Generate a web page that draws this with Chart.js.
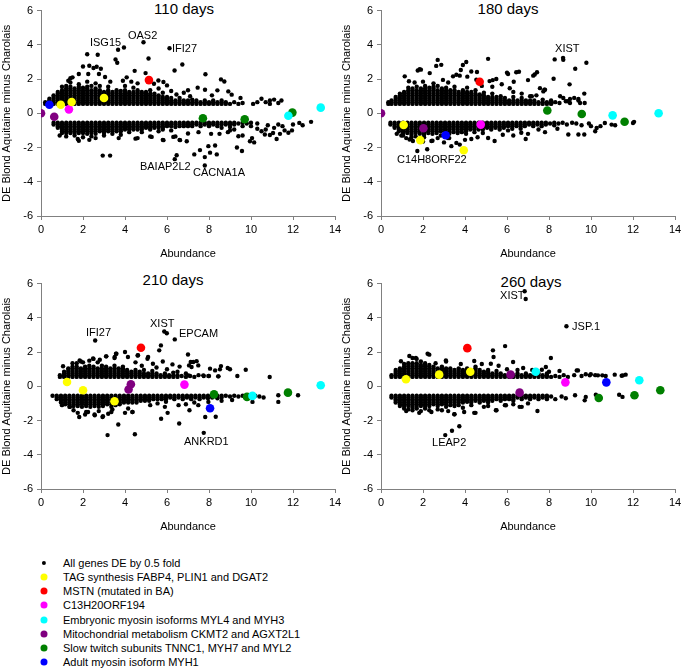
<!DOCTYPE html>
<html><head><meta charset="utf-8">
<script src="https://cdn.jsdelivr.net/npm/chart.js@4.4.1/dist/chart.umd.min.js"></script>
<style>
body{margin:0;width:683px;height:669px;overflow:hidden;background:#fff;position:relative;font-family:"Liberation Sans",Arial,sans-serif;color:#000}
canvas{position:absolute}
.t{position:absolute;font-size:15px;transform:translate(-50%,-50%);white-space:nowrap}
.lg{position:absolute;left:63px;font-size:11px;transform:translateY(-50%);white-space:nowrap;line-height:12px}
.mk{position:absolute;border-radius:50%;transform:translate(-50%,-50%)}
</style></head><body>
<div class="t" style="left:184px;top:8px">110 days</div>
<div class="t" style="left:508px;top:8px">180 days</div>
<div class="t" style="left:173px;top:279px">210 days</div>
<div class="t" style="left:531px;top:281px">260 days</div>
<canvas id="c1" width="350" height="262" style="left:0;top:0"></canvas>
<canvas id="c2" width="350" height="262" style="left:340px;top:0"></canvas>
<canvas id="c3" width="350" height="262" style="left:0;top:273px"></canvas>
<canvas id="c4" width="350" height="262" style="left:340px;top:273px"></canvas>
<div id="legend"></div>
<script>
// ---------- axis ticks ----------
const xTickVals = [0,2,4,6,8,10,12,14];
const yTickVals = [-6,-4,-2,0,2,4,6];

// ---------- series names / colours ----------
const seriesNames = ['All genes DE by 0.5 fold','TAG synthesis FABP4, PLIN1 and DGAT2','MSTN (mutated in BA)','C13H20ORF194','Embryonic myosin isoforms MYL4 and MYH3','Mitochondrial metabolism CKMT2 and AGXT2L1','Slow twitch subunits TNNC1, MYH7 and MYL2','Adult myosin isoform MYH1'];
const seriesColors = ['#000000','#ffff00','#ff0000','#ff00ff','#00ffff','#800080','#008000','#0000ff'];

// ---------- 110 days ----------
// dense bands: [abundance, DE, DE, ...]
const u110 = [[0.2,.55,.65],[0.4,.55,.65,.75,.85],[0.6,.55,.65,.75,.85,.95,1.05],[0.8,.55,.65,.75,.85,.95,1.05,1.15,1.25],[1.0,.55,.65,.75,.85,.95,1.05,1.15,1.25,1.35,1.55],[1.2,.55,.65,.75,.85,.95,1.05,1.15,1.25,1.35,1.45,1.6],[1.4,.55,.65,.75,.85,.95,1.05,1.15,1.25,1.35,1.45,1.55,1.8,2.05],[1.6,.55,.65,.75,.85,.95,1.05,1.15,1.25,1.35,1.45],[1.8,.55,.65,.75,.85,.95,1.05,1.15,1.25,1.35,1.45,1.55,1.7],[2.0,.55,.65,.75,.85,.95,1.05,1.15,1.25,1.35,1.5],[2.2,.55,.65,.75,.85,.95,1.05,1.15,1.25,1.35,1.45,1.55,1.85],[2.4,.55,.65,.75,.85,.95,1.05,1.15,1.25,1.35,1.6],[2.6,.55,.65,.75,.85,.95,1.05,1.15,1.25,1.35,1.45,1.75],[2.8,.55,.65,.75,.85,.95,1.05,1.15,1.25,1.35,1.6],[3.0,.55,.65,.75,.85,.95,1.05,1.15,1.25],[3.2,.55,.65,.75,.85,.95,1.05,1.15,1.25,1.35,1.55],[3.4,.55,.65,.75,.85,.95,1.05,1.15,1.25],[3.6,.55,.65,.75,.85,.95,1.05,1.15,1.25,1.35],[3.8,.55,.65,.75,.85,.95,1.05,1.15,1.3],[4.0,.55,.65,.75,.85,.95,1.05,1.15,1.25,1.35,1.6],[4.2,.55,.65,.75,.85,.95,1.05,1.15,1.25],[4.4,.55,.65,.75,.85,.95,1.05,1.15,1.25,1.5],[4.6,.55,.65,.75,.85,.95,1.05,1.15,1.25,1.35],[4.8,.55,.65,.75,.85,.95,1.05,1.15,1.25],[5.0,.55,.65,.75,.85,.95,1.05,1.15,1.25],[5.2,.55,.65,.75,.85,.95,1.05,1.15,1.35],[5.4,.55,.65,.75,.85,.95,1.05,1.15],[5.6,.55,.65,.75,.85,.95,1.05,1.45],[5.8,.55,.65,.75,.85,.95,1.2],[6.0,.55,.65,.75,.85,.95],[6.2,.55,.65,.75,.9],[6.4,.55,.65,.75],[6.6,.55,.65,.75,.9],[6.8,.55,.65,.75],[7.0,.55,.65,.75],[7.2,.55,.65,.8],[7.4,.55,.65,.75],[7.6,.55,.65],[7.8,.55,.65,.75],[8.0,.55,.65],[8.2,.55,.65,.75],[8.4,.55,.65],[8.6,.55,.65,.75],[8.8,.55,.65],[9.0,.55],[9.2,.65],[9.4,.55],[9.6,.6],[10.1,.55],[10.3,.65],[10.5,.85],[10.7,.65],[10.9,.55,.75],[11.1,.8],[11.3,.6],[11.45,.75]];
const l110 = [[0.6,-.55,-.65],[0.8,-.55,-.65,-.75,-.85],[1.0,-.55,-.65,-.75,-.85,-.95,-1.05,-1.15],[1.2,-.55,-.65,-.75,-.85,-.95,-1.05,-1.15,-1.35],[1.4,-.55,-.65,-.75,-.85,-.95,-1.05,-1.15],[1.6,-.55,-.65,-.75,-.85,-.95,-1.05,-1.15,-1.3],[1.8,-.55,-.65,-.75,-.85,-.95,-1.05,-1.15,-1.6],[2.0,-.55,-.65,-.75,-.85,-.95,-1.05,-1.15,-1.4],[2.2,-.55,-.65,-.75,-.85,-.95,-1.05,-1.2],[2.4,-.55,-.65,-.75,-.85,-.95,-1.05,-1.15,-1.35],[2.6,-.55,-.65,-.75,-.85,-.95,-1.05,-1.2,-1.45],[2.8,-.55,-.65,-.75,-.85,-.95,-1.05],[3.0,-.55,-.65,-.75,-.85,-.95,-1.05,-1.15,-1.3],[3.2,-.55,-.65,-.75,-.85,-.95,-1.05],[3.4,-.55,-.65,-.75,-.85,-.95,-1.05,-1.2],[3.6,-.55,-.65,-.75,-.85,-.95,-1.05],[3.8,-.55,-.65,-.75,-.85,-.95,-1.05,-1.25],[4.0,-.55,-.65,-.75,-.85,-.95],[4.2,-.55,-.65,-.75,-.85,-.95,-1.1],[4.4,-.55,-.65,-.75,-.85,-.95],[4.6,-.55,-.65,-.75,-.85,-.95,-1.45],[4.8,-.55,-.65,-.75,-.85,-.95,-1.1],[5.0,-.55,-.65,-.75,-.85],[5.2,-.55,-.65,-.75,-.85,-.95,-1.35],[5.4,-.55,-.65,-.75,-.85],[5.6,-.55,-.65,-.75,-.85,-1.05],[5.8,-.55,-.65,-.75,-.85,-.95,-1.55],[6.0,-.55,-.65,-.75],[6.2,-.55,-.65,-.75,-1.0],[6.4,-.55,-.65,-.8,-1.35],[6.6,-.55,-.65,-.75,-1.55],[6.8,-.55,-.65,-.75],[7.0,-.55,-.65,-.75,-1.18],[7.2,-.55,-.65,-.75],[7.4,-.55,-.65],[7.6,-.55,-.65,-.75],[7.8,-.55,-.65],[8.0,-.55,-.65,-.75],[8.2,-.55,-.65],[8.4,-.55,-.65,-.75],[8.6,-.55,-.65,-.85],[8.8,-.55,-.65],[9.0,-.55,-.65,-.8],[9.2,-.55,-.65],[9.4,-.6],[9.6,-.55,-.75],[9.8,-.6],[10.0,-.55,-.75],[10.3,-.6]];
const s110 = [[2.2,3.45],[2.7,3.42],[3.67,3.71],[3.95,3.84],[4.88,4.15],[6.12,3.8],[5.12,3.2],[3.55,3.15],[3.63,2.95],[2.0,2.73],[2.3,2.78],[2.5,2.65],[2.65,2.72],[2.85,2.6],[4.46,2.48],[6.36,2.5],[6.73,2.85],[7.83,2.28],[8.57,1.98],[8.73,1.86],[2.25,2.3],[2.76,2.3],[3.05,2.12],[4.08,2.1],[4.98,2.35],[5.38,1.73],[5.59,1.92],[5.83,1.83],[6.0,1.63],[1.5,2.1],[1.3,1.9],[1.8,2.3],[3.3,1.85],[3.9,1.9],[4.6,1.75],[4.3,1.85],[6.2,1.3],[6.45,1.1],[6.8,1.2],[7.1,1.0],[7.46,1.5],[7.81,1.38],[8.4,1.34],[8.92,1.28],[9.08,1.09],[8.14,1.05],[9.5,0.9],[7.0,1.35],
 [2.94,-2.47],[3.29,-2.47],[6.37,-2.68],[6.46,-2.45],[7.8,-3.05],[7.3,-2.4],[7.57,-2.15],[7.8,-2.56],[8.05,-2.3],[8.37,-2.4],[7.97,-1.92],[8.29,-1.88],[9.33,-2.0],[9.57,-2.2],[6.94,-1.63],[9.4,-1.34],[9.6,-1.3],[9.95,-1.63],[10.05,-1.45],[10.15,-1.7],[10.66,-1.24],[10.9,-1.27],[11.05,-1.15],[11.22,-1.5],[11.38,-1.2],[11.6,-1.0],[11.78,-1.14],[11.95,-1.0],[12.3,-0.56],[12.46,-0.7],[12.86,-0.5],[9.0,-1.0],[9.2,-0.95],[8.9,-1.1],[10.3,-0.9],[10.5,-1.05],[10.7,-0.95],[11.1,-0.85],[11.5,-0.75],[10.8,-0.7],[11.3,-0.65],[12.0,-0.65],[0.89,-1.3],[1.75,-1.5],[4.5,-1.48],[5.27,-1.38],[5.83,-1.57],[6.3,-1.38],[6.62,-1.57],[3.7,-1.45],[2.3,-1.55],[8.5,-1.2],[7.5,-1.1],[8.1,-1.2]];
const tag110 = [[0.94,0.5],[1.46,0.66],[3.0,0.89]];
const mstn110 = [[5.14,1.94]];
const orf110 = [[1.33,0.23]];
const emb110 = [[11.78,-0.14],[13.32,0.33]];
const mito110 = [[0,0],[0.63,-0.2]];
const slow110 = [[7.71,-0.29],[9.7,-0.35],[11.97,0.04]];
const adult110 = [[0.4,0.5]];
const notes110 = [['ISG15',2.33,4.13],['OAS2',4.14,4.54],['IFI27',6.24,3.78],['BAIAP2L2',4.71,-3.12],['CACNA1A',7.24,-3.5]];

// ---------- 180 days ----------
const u180 = [[0.35,.55,.65],[0.5,.55,.65,.75],[0.7,.55,.65,.75,.85,.95],[0.9,.55,.65,.75,.85,.95,1.05,1.15],[1.1,.55,.65,.75,.85,.95,1.05,1.15,1.25],[1.3,.55,.65,.75,.85,.95,1.05,1.15,1.25,1.35,1.5],[1.5,.55,.65,.75,.85,.95,1.05,1.15,1.25,1.35,1.45],[1.7,.55,.65,.75,.85,.95,1.05,1.15,1.25,1.35,1.55],[1.9,.55,.65,.75,.85,.95,1.05,1.15,1.25,1.35,1.45],[2.1,.55,.65,.75,.85,.95,1.05,1.15,1.25,1.35,1.45,1.6],[2.3,.55,.65,.75,.85,.95,1.05,1.15,1.25,1.35,1.5],[2.5,.55,.65,.75,.85,.95,1.05,1.15,1.25,1.35,1.45,1.55,1.75],[2.7,.55,.65,.75,.85,.95,1.05,1.15,1.25,1.35,1.6],[2.9,.55,.65,.75,.85,.95,1.05,1.15,1.25,1.35,1.45],[3.1,.55,.65,.75,.85,.95,1.05,1.15,1.25,1.35,1.5],[3.3,.55,.65,.75,.85,.95,1.05,1.15,1.25,1.35],[3.5,.55,.65,.75,.85,.95,1.05,1.15,1.25,1.35,1.55],[3.7,.55,.65,.75,.85,.95,1.05,1.15,1.25],[3.9,.55,.65,.75,.85,.95,1.05,1.15,1.25,1.35],[4.1,.55,.65,.75,.85,.95,1.05,1.15,1.25,1.5],[4.3,.55,.65,.75,.85,.95,1.05,1.15,1.25],[4.5,.55,.65,.75,.85,.95,1.05,1.15,1.35],[4.7,.55,.65,.75,.85,.95,1.05,1.1],[4.9,.55,.65,.75,.85,.95,1.05,1.2],[5.1,.55,.65,.75,.85,.95],[5.3,.55,.65,.75,.85,.95,1.15],[5.5,.55,.65,.75,.85,.95],[5.7,.55,.65,.75,.85,1.0],[5.9,.55,.65,.75,.9],[6.1,.55,.65,.75],[6.3,.55,.65,.75,.95],[6.5,.55,.65,.75],[6.7,.55,.65,.75,.9],[6.9,.55,.65,.75],[7.1,.55,.65,.75,1.0],[7.3,.55,.65,.75],[7.5,.55,.65],[7.7,.55,.65,.8],[7.9,.55,.65],[8.1,.55,.65,.75],[8.3,.65],[8.5,.6],[8.8,.7],[9.0,.6],[9.4,.75],[9.7,.6]];
const l180 = [[0.45,-.55,-.65],[0.65,-.55,-.65,-.75,-.85],[0.85,-.55,-.65,-.75,-.85,-.95,-1.05],[1.05,-.55,-.65,-.75,-.85,-.95,-1.05,-1.15,-1.3],[1.25,-.55,-.65,-.75,-.85,-.95,-1.05,-1.15],[1.45,-.55,-.65,-.75,-.85,-.95,-1.05,-1.15,-1.25,-1.4],[1.65,-.55,-.65,-.75,-.85,-.95,-1.05,-1.15,-1.35],[1.85,-.55,-.65,-.75,-.85,-.95,-1.05,-1.2],[2.05,-.55,-.65,-.75,-.85,-.95,-1.05,-1.15,-1.25,-1.4],[2.25,-.55,-.65,-.75,-.85,-.95,-1.05,-1.15],[2.45,-.55,-.65,-.75,-.85,-.95,-1.05,-1.2,-1.6],[2.65,-.55,-.65,-.75,-.85,-.95,-1.05,-1.15],[2.85,-.55,-.65,-.75,-.85,-.95,-1.05,-1.3],[3.05,-.55,-.65,-.75,-.85,-.95,-1.05,-1.15],[3.25,-.55,-.65,-.75,-.85,-.95,-1.05,-1.2,-1.45],[3.45,-.55,-.65,-.75,-.85,-.95,-1.1],[3.65,-.55,-.65,-.75,-.85,-.95,-1.05,-1.15],[3.85,-.55,-.65,-.75,-.85,-.95,-1.1],[4.05,-.55,-.65,-.75,-.85,-.95,-1.05,-1.2],[4.25,-.55,-.65,-.75,-.85,-.95],[4.45,-.55,-.65,-.75,-.85,-.95,-1.1],[4.65,-.55,-.65,-.75,-.85,-.95],[4.85,-.55,-.65,-.75,-.85,-.95,-1.15],[5.05,-.55,-.65,-.75,-.85],[5.25,-.55,-.65,-.75,-.85,-.95],[5.45,-.55,-.65,-.75,-.85],[5.65,-.55,-.65,-.75,-.85,-.95],[5.85,-.55,-.65,-.75,-.85],[6.05,-.55,-.65,-.75,-1.0],[6.25,-.55,-.65,-.75,-.9],[6.45,-.55,-.65,-.75],[6.65,-.55,-.65,-.75,-.9],[6.85,-.55,-.65,-.75],[7.05,-.55,-.65],[7.25,-.55,-.65,-.75],[7.45,-.55,-.65],[7.65,-.55,-.65,-.75],[7.85,-.55,-.65],[8.05,-.6],[8.25,-.55,-.7],[8.45,-.6],[8.65,-.55],[8.85,-.65],[9.1,-.55],[9.3,-.6],[9.55,-.7]];
const s180 = [[2.7,3.12],[2.87,2.83],[2.63,2.77],[1.84,2.58],[1.75,2.5],[1.9,2.55],[2.32,2.35],[5.1,3.18],[3.9,2.82],[4.06,3.0],[3.8,2.53],[1.13,2.16],[1.33,1.87],[3.43,2.16],[3.59,2.25],[3.75,2.2],[4.11,2.14],[4.3,2.44],[4.54,1.96],[4.57,2.41],[5.17,1.88],[5.32,1.94],[5.49,2.0],[6.05,2.3],[6.44,2.4],[6.0,2.37],[6.57,2.43],[6.13,1.46],[6.32,1.84],[7.32,2.27],[7.43,2.4],[7.0,1.94],[7.78,1.38],[7.25,2.2],[7.57,1.47],[7.81,1.38],[7.73,1.28],[7.18,1.0],[7.4,1.05],[8.22,2.02],[8.27,3.15],[8.67,3.24],[8.68,3.13],[9.78,2.95],[9.25,2.6],[8.98,1.69],[9.68,1.15],[8.53,1.0],[8.68,0.89],[9.0,0.84],[9.2,0.9],[9.4,0.84],[9.48,0.6],[8.13,0.63],[8.9,0.7],[1.6,1.8],[2.0,1.85],[2.95,1.95],[3.2,1.8],[4.8,1.6],[5.3,1.55],[5.75,1.7],[6.3,1.25],[6.7,1.15],
 [0.97,-1.3],[1.36,-1.53],[1.52,-1.62],[1.73,-2.2],[2.2,-2.1],[2.4,-1.62],[3.19,-1.44],[3.35,-1.92],[3.59,-1.73],[3.75,-1.83],[5.41,-1.62],[5.1,-1.44],[6.68,-1.14],[6.3,-1.3],[4.6,-1.4],[4.3,-1.5],[2.7,-1.45],[1.2,-1.45],[6.89,-1.5],[7.0,-1.2],[7.81,-1.1],[8.92,-1.24],[9.4,-1.24],[9.68,-1.24],[10.2,-1.05],[10.27,-0.86],[10.66,-0.57],[10.98,-0.66],[11.15,-0.7],[12.0,-0.57],[12.05,-0.5],[10.0,-0.75],[9.9,-0.6],[10.45,-0.75],[8.4,-0.9],[7.5,-0.95],[2.0,-1.65],[3.0,-1.7],[4.0,-1.55],[0.75,-1.2],[5.8,-1.25]];
const tag180 = [[1.08,-0.68],[1.87,-1.57],[3.94,-2.16]];
const mstn180 = [[4.7,1.84]];
const orf180 = [[4.75,-0.66]];
const emb180 = [[11.03,-0.12],[13.22,0.0]];
const mito180 = [[0,0],[2.02,-0.87]];
const slow180 = [[7.92,0.16],[9.56,-0.04],[11.6,-0.49]];
const adult180 = [[3.08,-1.28]];
const notes180 = [['XIST',8.29,3.73],['C14H8ORF22',0.76,-2.74]];

// ---------- 210 days ----------
const u210 = [[0.9,.55,.65],[1.1,.55,.65,.75,.85],[1.3,.55,.65,.75,.85,.95,1.05],[1.5,.55,.65,.75,.85,.95,1.05,1.15],[1.7,.55,.65,.75,.85,.95,1.05,1.15,1.35],[1.9,.55,.65,.75,.85,.95,1.05,1.45],[2.1,.55,.65,.75,.85,.95,1.05,1.15],[2.3,.55,.65,.75,.85,.95,1.05,1.2,1.5],[2.5,.55,.65,.75,.85,.95,1.05,1.15,1.6],[2.7,.55,.65,.75,.85,.95,1.05,1.4],[2.9,.55,.65,.75,.85,.95,1.05,1.2],[3.1,.55,.65,.75,.85,.95,1.05,1.15,1.75],[3.3,.55,.65,.75,.85,.95,1.05],[3.5,.55,.65,.75,.85,.95,1.05,1.2,1.65],[3.7,.55,.65,.75,.85,.95,1.05],[3.9,.55,.65,.75,.85,.95,1.05,1.15],[4.1,.55,.65,.75,.85,.95],[4.3,.55,.65,.75,.85],[4.5,.55,.65,.75,.85,.95],[4.7,.55,.65,.75,.85],[4.9,.55,.65,.75,.95],[5.1,.55,.65,.75],[5.3,.55,.65,.75,.9],[5.5,.55,.65,.75],[5.7,.55,.65],[5.9,.55,.65,.75],[6.1,.55,.65],[6.3,.55,.65,.8],[6.5,.55,.65],[6.7,.6],[6.9,.55,.75],[7.1,.6],[7.3,.55],[7.5,.65],[7.75,.6],[8.0,.6],[8.45,.58]];
const l210 = [[0.55,-.55],[0.75,-.55,-.65,-.75],[0.95,-.55,-.65,-.75,-.85,-.95],[1.15,-.55,-.65,-.75,-.85,-.95,-1.05],[1.35,-.55,-.65,-.75,-.85,-.95,-1.05,-1.2],[1.55,-.55,-.65,-.75,-.85,-.95,-1.05,-1.15,-1.4],[1.75,-.55,-.65,-.75,-.85,-.95,-1.05,-1.15,-1.55],[1.95,-.55,-.65,-.75,-.85,-.95,-1.05,-1.2],[2.15,-.55,-.65,-.75,-.85,-.95,-1.05,-1.15,-1.5],[2.35,-.55,-.65,-.75,-.85,-.95,-1.05,-1.2],[2.55,-.55,-.65,-.75,-.85,-.95,-1.05,-1.15,-1.65],[2.75,-.55,-.65,-.75,-.85,-.95,-1.05,-1.2,-1.45],[2.95,-.55,-.65,-.75,-.85,-.95,-1.05,-1.15,-1.75],[3.15,-.55,-.65,-.75,-.85,-.95,-1.05],[3.35,-.55,-.65,-.75,-.85,-.95,-1.05,-1.2,-1.5],[3.55,-.55,-.65,-.75,-.85,-.95,-1.1],[3.75,-.55,-.65,-.75,-.85,-.95,-1.05],[3.95,-.55,-.65,-.75,-.85,-.95],[4.15,-.55,-.65,-.75,-.85,-.95,-1.3],[4.35,-.55,-.65,-.75,-.85,-.95,-1.5],[4.55,-.55,-.65,-.75,-.85,-.95],[4.75,-.55,-.65,-.75,-.85],[4.95,-.55,-.65,-.75,-.85],[5.15,-.55,-.65,-.75,-.85],[5.35,-.55,-.65,-.75],[5.55,-.55,-.65,-.75,-1.0],[5.75,-.55,-.65,-.75],[5.95,-.55,-.65,-.75,-.9],[6.15,-.55,-.65],[6.35,-.55,-.65,-.75],[6.55,-.55,-.65,-1.1],[6.75,-.55,-.65,-.75],[6.95,-.55,-.65],[7.15,-.55,-.65,-.75],[7.35,-.55,-.65],[7.55,-.55,-.65,-.75],[7.75,-.55,-.65],[7.95,-.55,-.7],[8.15,-.55,-.65],[8.4,-.55,-.7],[8.6,-.55,-.65],[8.8,-.55],[9.0,-.6],[9.2,-.55],[9.4,-.6],[9.6,-.55],[9.8,-.6],[10.2,-.55],[10.4,-.6],[10.6,-.65]];
const s210 = [[1.05,1.17],[1.84,1.51],[2.48,1.62],[3.11,1.75],[3.51,1.71],[3.59,1.9],[4.62,1.81],[5.1,1.71],[5.33,1.32],[4.14,1.71],[2.58,2.68],[5.87,3.2],[5.99,3.1],[6.37,2.74],[5.71,2.39],[5.63,2.1],[7.0,1.86],[5.07,1.61],[4.0,2.0],[3.57,1.9],[6.26,1.28],[7.13,1.42],[7.05,1.22],[7.25,1.42],[7.41,1.47],[7.49,1.22],[7.17,1.13],[7.02,0.64],[7.73,0.64],[7.97,0.6],[8.05,1.03],[8.29,0.93],[8.52,0.99],[8.57,1.18],[8.89,1.07],[8.44,0.58],[9.35,0.6],[9.75,0.97],[10.89,0.54],[9.0,1.0],[4.5,1.4],[4.8,1.2],[5.5,1.1],[6.0,1.0],[6.6,1.15],[5.8,1.45],[2.0,1.4],[2.8,1.55],[1.5,1.35],[6.5,0.85],[4.6,1.8],
 [11.3,-0.52],[11.3,-0.91],[12.24,-0.52],[10.07,-0.91],[7.82,-1.79],[5.72,-1.9],[6.03,-1.55],[6.58,-2.17],[7.07,-1.4],[3.68,-2.23],[3.17,-2.85],[4.47,-2.8],[1.82,-1.79],[2.93,-1.79],[4.36,-1.5],[7.49,-1.1],[7.97,-0.91],[8.32,-1.78],[7.75,-2.72],[1.38,-1.2],[2.24,-1.5],[2.56,-1.69],[2.1,-1.65],[3.2,-1.6],[3.4,-1.35],[5.9,-1.2],[5.2,-1.1],[6.9,-1.05],[7.3,-0.95],[8.6,-0.85],[9.1,-0.8],[1.0,-1.1],[4.0,-1.55]];
const tag210 = [[1.24,0.25],[2.0,-0.23],[3.5,-0.87]];
const mstn210 = [[4.76,2.25]];
const orf210 = [[6.83,0.1]];
const emb210 = [[10.07,-0.56],[13.32,0.06]];
const mito210 = [[4.28,0.12],[4.17,-0.19]];
const slow210 = [[8.24,-0.47],[9.81,-0.62],[11.76,-0.37]];
const adult210 = [[8.05,-1.28]];
const notes210 = [['IFI27',2.14,3.1],['XIST',5.19,3.65],['EPCAM',6.57,3.03],['ANKRD1',6.81,-3.24]];

// ---------- 260 days ----------
const u260 = [[0.5,.55,.65],[0.7,.55,.65,.75,.85,.95],[0.9,.55,.65,.75,.85,.95,1.05],[1.1,.55,.65,.75,.85,.95,1.05,1.15,1.3],[1.3,.55,.65,.75,.85,.95,1.05,1.15,1.25,1.35],[1.5,.55,.65,.75,.85,.95,1.05,1.15,1.25,1.35,1.65],[1.7,.55,.65,.75,.85,.95,1.05,1.15,1.25,1.35,1.6],[1.9,.55,.65,.75,.85,.95,1.05,1.15,1.25],[2.1,.55,.65,.75,.85,.95,1.05,1.15,1.25,1.35],[2.3,.55,.65,.75,.85,.95,1.05,1.15,1.25,1.85],[2.5,.55,.65,.75,.85,.95,1.05,1.15],[2.7,.55,.65,.75,.85,.95,1.05],[2.9,.55,.65,.75,.85,.95,1.05,1.15],[3.1,.55,.65,.75,.85,.95,1.05,1.45],[3.3,.55,.65,.75,.85,.95,1.05],[3.5,.55,.65,.75,.85,.95],[3.7,.55,.65,.75,.85,.95,1.05],[3.9,.55,.65,.75,.85,.95],[4.1,.55,.65,.75,.85,.95,1.05],[4.3,.55,.65,.75,.85],[4.5,.55,.65,.75,.85,.95,1.05,1.15],[4.7,.55,.65,.75,.85,.95],[4.9,.55,.65,.75,.85],[5.1,.55,.65,.75,.85,.95],[5.3,.55,.65,.75],[5.5,.55,.65,.75,.9],[5.7,.55,.65,.75],[5.9,.55,.65],[6.1,.55,.65,.75],[6.3,.55,.65],[6.5,.55,.65,.75,.95],[6.7,.55,.65],[6.9,.55,.65,.75],[7.1,.55,.65],[7.3,.55,.65],[7.5,.55,.65,.75],[7.7,.55,.65],[7.9,.55,.65,.75],[8.1,.55],[8.3,.6],[8.5,.55],[8.7,.65],[8.9,.55]];
const l260 = [[0.5,-.55,-.65],[0.7,-.55,-.65,-.75,-.85,-.95],[0.9,-.55,-.65,-.75,-.85,-.95,-1.05,-1.15],[1.1,-.55,-.65,-.75,-.85,-.95,-1.05,-1.15,-1.3],[1.3,-.55,-.65,-.75,-.85,-.95,-1.05,-1.15,-1.35],[1.5,-.55,-.65,-.75,-.85,-.95,-1.05,-1.15,-1.25,-1.4],[1.7,-.55,-.65,-.75,-.85,-.95,-1.05,-1.15,-1.3],[1.9,-.55,-.65,-.75,-.85,-.95,-1.05,-1.15,-1.45],[2.1,-.55,-.65,-.75,-.85,-.95,-1.05,-1.15,-1.3],[2.3,-.55,-.65,-.75,-.85,-.95,-1.05,-1.15,-1.4],[2.5,-.55,-.65,-.75,-.85,-.95,-1.05],[2.7,-.55,-.65,-.75,-.85,-.95,-1.05,-1.15,-1.35],[2.9,-.55,-.65,-.75,-.85,-.95,-1.05],[3.1,-.55,-.65,-.75,-.85,-.95,-1.05,-1.2],[3.3,-.55,-.65,-.75,-.85,-.95,-1.1],[3.5,-.55,-.65,-.75,-.85,-.95,-1.05,-1.15,-1.63],[3.7,-.55,-.65,-.75,-.85,-.95,-1.1],[3.9,-.55,-.65,-.75,-.85,-.95,-1.25],[4.1,-.55,-.65,-.75,-.85,-.9],[4.3,-.55,-.65,-.75,-.85,-.95,-1.1],[4.5,-.55,-.65,-.75,-.85,-1.55],[4.7,-.55,-.65,-.75,-.85,-.95],[4.9,-.55,-.65,-.75,-.85],[5.1,-.55,-.65,-.75,-.85,-.95,-1.15],[5.3,-.55,-.65,-.75,-.85],[5.5,-.55,-.65,-.75,-1.4],[5.7,-.55,-.65,-.75,-.85],[5.9,-.55,-.65,-.75,-1.1],[6.1,-.55,-.65,-.75],[6.3,-.55,-.65,-.75,-.85],[6.5,-.55,-.65],[6.7,-.55,-.65,-.75,-1.2],[6.9,-.55,-.65],[7.1,-.55,-.65,-.75],[7.3,-.55,-.65],[7.5,-.55,-.65,-.75],[7.7,-.55,-.65],[7.9,-.55,-.65,-.75],[8.1,-.6]];
const s260 = [[6.84,5.55],[6.89,5.1],[8.83,3.51],[2.22,1.9],[5.91,2.35],[5.33,2.1],[5.36,1.71],[6.29,1.42],[8.09,1.65],[1.35,1.77],[1.66,1.65],[0.95,1.46],[3.09,1.51],[4.44,1.48],[5.23,1.32],[6.77,1.07],[7.66,0.97],[7.85,1.13],[9.32,0.93],[9.75,0.7],[9.99,0.7],[10.2,0.65],[10.54,0.64],[10.7,0.6],[11.13,0.68],[11.46,0.62],[11.65,0.68],[9.38,0.93],[9.55,0.6],[9.94,0.64],[10.33,0.64],[11.52,0.64],[9.2,0.65],[2.6,1.35],[3.8,1.3],[4.8,1.3],[5.6,1.2],[6.0,1.0],[7.2,0.95],[8.0,0.85],[8.5,0.9],[1.9,1.45],
 [3.06,-2.85],[3.38,-2.6],[3.73,-2.33],[9.24,-0.52],[9.75,-0.62],[9.7,-0.82],[10.23,-0.49],[11.34,-0.49],[11.5,-0.62],[7.45,-1.44],[6.6,-1.2],[5.95,-1.11],[5.47,-1.4],[4.44,-1.55],[3.96,-1.5],[3.49,-1.63],[1.82,-1.55],[2.4,-1.5],[2.9,-1.4],[1.2,-1.45],[4.9,-1.2],[6.3,-1.05],[7.0,-1.0],[8.3,-0.75],[8.6,-0.6],[8.8,-0.7],[3.2,-1.45]];
const tag260 = [[1.19,0.41],[2.77,0.68],[4.25,0.85]];
const mstn260 = [[4.11,2.23]];
const orf260 = [[8.78,0.23]];
const emb260 = [[7.37,0.85],[12.3,0.35]];
const mito260 = [[6.17,0.68],[6.6,-0.37]];
const slow260 = [[10.37,-0.68],[12.07,-0.52],[13.3,-0.23]];
const adult260 = [[10.73,0.23]];
const notes260 = [['XIST',5.67,5.3],['JSP.1',9.1,3.49],['LEAP2',2.43,-3.3]];

// ---------- helpers ----------
const FONT = '"Liberation Sans", Arial, sans-serif';
function fromCols(arr){const out=[];for(const c of arr){for(let i=1;i<c.length;i++)out.push({x:c[0],y:c[i]});}return out;}
function fromPairs(arr){return arr.map(p=>({x:p[0],y:p[1]}));}

const notesPlugin = {
  id:'notes',
  afterDatasetsDraw(chart,args,opts){
    const ctx=chart.ctx;ctx.save();
    ctx.font='11px '+FONT;ctx.fillStyle='#000';ctx.textAlign='left';ctx.textBaseline='middle';
    for(const n of (opts.items||[])){
      ctx.fillText(n[0],chart.scales.x.getPixelForValue(n[1]),chart.scales.y.getPixelForValue(n[2]));
    }
    ctx.restore();
  }
};

function makePanel(id, bands, singles, colored, notes){
  const black = [];
  for(const b of bands) black.push(...fromCols(b));
  black.push(...fromPairs(singles));
  const datasets = colored.map((d,i)=>({
    label:seriesNames[i+1], data:fromPairs(d), backgroundColor:seriesColors[i+1],
    pointRadius:4.3, borderWidth:0, order:1
  }));
  datasets.push({label:seriesNames[0], data:black, backgroundColor:'#000', pointRadius:2.2, borderWidth:0, order:2});
  const axisCommon = {
    grid:{drawOnChartArea:false,drawTicks:true,tickLength:4,color:'#808080'},
    border:{display:true,color:'#808080',width:1}
  };
  new Chart(document.getElementById(id),{
    type:'scatter',
    data:{datasets},
    options:{
      responsive:false, animation:false, devicePixelRatio:1,
      layout:{padding:{top:10,right:15,bottom:0,left:0}},
      plugins:{legend:{display:false},tooltip:{enabled:false},notes:{items:notes}},
      scales:{
        x:Object.assign({type:'linear',min:0,max:14,
          afterBuildTicks(s){s.ticks=xTickVals.map(v=>({value:v}));},
          ticks:{color:'#000',font:{size:11,family:FONT},padding:3,autoSkip:false,maxRotation:0},
          title:{display:true,text:'Abundance',color:'#000',font:{size:11,family:FONT},padding:{top:0,bottom:1}},
          afterFit(s){s.height=46;}
        },axisCommon),
        y:Object.assign({type:'linear',min:-6,max:6,
          afterBuildTicks(s){s.ticks=yTickVals.map(v=>({value:v}));},
          ticks:{color:'#000',font:{size:11,family:FONT},padding:4,autoSkip:false},
          title:{display:true,text:'DE Blond Aquitaine minus Charolais',color:'#000',font:{size:11,family:FONT},padding:{top:0,bottom:0}},
          afterFit(s){s.width=41;}
        },axisCommon)
      }
    },
    plugins:[notesPlugin]
  });
}

makePanel('c1',[u110,l110],s110,[tag110,mstn110,orf110,emb110,mito110,slow110,adult110],notes110);
makePanel('c2',[u180,l180],s180,[tag180,mstn180,orf180,emb180,mito180,slow180,adult180],notes180);
makePanel('c3',[u210,l210],s210,[tag210,mstn210,orf210,emb210,mito210,slow210,adult210],notes210);
makePanel('c4',[u260,l260],s260,[tag260,mstn260,orf260,emb260,mito260,slow260,adult260],notes260);

// ---------- legend ----------
const lg = document.getElementById('legend');
seriesNames.forEach((name,i)=>{
  const y = 563.3 + i*14.05;
  const mk = document.createElement('div');
  mk.className='mk';
  const d = i===0 ? 4.2 : 7;
  mk.style.cssText=`left:${i===0?44:43.5}px;top:${y}px;width:${d}px;height:${d}px;background:${seriesColors[i]}`;
  lg.appendChild(mk);
  const t = document.createElement('div');
  t.className='lg'; t.style.top=y+'px'; t.textContent=name;
  lg.appendChild(t);
});
</script>
</body></html>
